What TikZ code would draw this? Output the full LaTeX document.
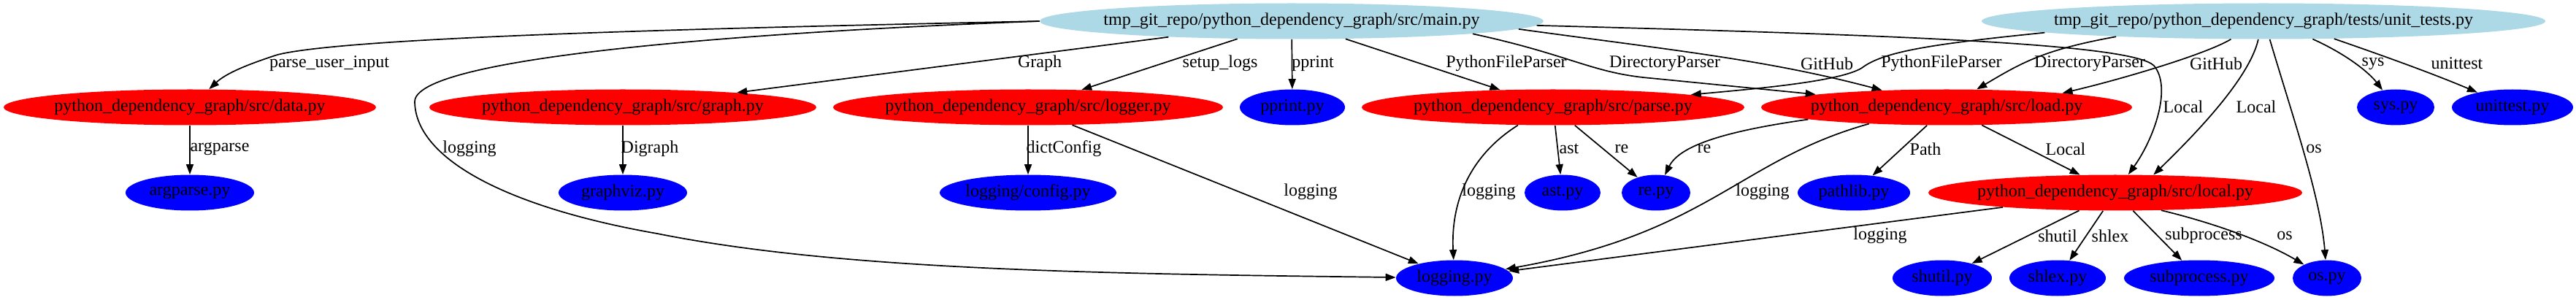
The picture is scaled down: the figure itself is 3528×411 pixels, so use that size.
\documentclass[tikz,border=0pt]{standalone}
\usepackage{fontspec}
\setmainfont{Liberation Serif}
\usetikzlibrary{shapes.geometric,arrows.meta}
\definecolor{gvlightblue}{HTML}{ADD8E6}
\newcommand\gvn[5]{\node[#1, minimum width=#4pt] (#2) at (#3) {\makebox[0pt]{#5}};}
\begin{document}
\begin{tikzpicture}[x=0.5pt,y=-0.5pt,
  gvnode/.style={ellipse, inner sep=0pt, minimum height=24.5pt, font=\fontsize{12}{14}\selectfont},
  srcnode/.style={gvnode, fill=gvlightblue},
  modnode/.style={gvnode, fill=red},
  libnode/.style={gvnode, fill=blue},
  dep/.style={draw=black, line width=0.85pt, -{Triangle[length=7pt,width=5pt]}},
  lbl/.style={inner sep=0pt, font=\fontsize{12}{14}\selectfont}]
\useasboundingbox (0,0) rectangle (3528,411);
% nodes
\gvn{srcnode}{main}{1769,29}{345}{tmp\_git\_repo/python\_dependency\_graph/src/main.py}
\gvn{srcnode}{unit}{3100,29}{386}{tmp\_git\_repo/python\_dependency\_graph/tests/unit\_tests.py}
\gvn{modnode}{data}{260,147}{255}{python\_dependency\_graph/src/data.py}
\gvn{modnode}{graph}{853,147}{265}{python\_dependency\_graph/src/graph.py}
\gvn{modnode}{logger}{1408,147}{267}{python\_dependency\_graph/src/logger.py}
\gvn{libnode}{pprint}{1770,147}{72}{pprint.py}
\gvn{modnode}{parse}{2127,147}{262}{python\_dependency\_graph/src/parse.py}
\gvn{modnode}{load}{2666,147}{254}{python\_dependency\_graph/src/load.py}
\gvn{libnode}{sys}{3281,147}{53}{sys.py}
\gvn{libnode}{unittest}{3441,147}{83}{unittest.py}
\gvn{libnode}{argparse}{260,264}{88}{argparse.py}
\gvn{libnode}{graphviz}{853,264}{88}{graphviz.py}
\gvn{libnode}{config}{1408,264}{121}{logging/config.py}
\gvn{libnode}{ast}{2140,264}{52}{ast.py}
\gvn{libnode}{re}{2268,264}{47}{re.py}
\gvn{libnode}{pathlib}{2539,264}{77}{pathlib.py}
\gvn{modnode}{local}{2897,264}{256}{python\_dependency\_graph/src/local.py}
\gvn{libnode}{logging}{1992,381}{80}{logging.py}
\gvn{libnode}{shutil}{2660,381}{68}{shutil.py}
\gvn{libnode}{shlex}{2818,381}{66}{shlex.py}
\gvn{libnode}{subprocess}{3012,381}{103}{subprocess.py}
\gvn{libnode}{os}{3187,381}{47}{os.py}
% edges from main.py
\draw[dep] (main.west) .. controls (1000,38) and (480,50) .. (380,75) .. controls (340,88) and (310,100) .. (data);
\draw[dep] (main.west) .. controls (1000,45) and (565,80) .. (568,140) .. controls (570,220) and (700,285) .. (900,320) .. controls (1150,370) and (1500,375) .. (logging);
\draw[dep] (main) -- (graph);
\draw[dep] (main) -- (logger);
\draw[dep] (main) -- (pprint);
\draw[dep] (main) -- (parse);
\draw[dep] (main.-4.85) .. controls (2150,75) and (2180,100) .. (2260,107) -- (load);
\draw[dep] (main.-2.9) .. controls (2300,70) and (2420,82) .. (load);
\draw[dep] (main.-1.6) .. controls (2600,48) and (2920,60) .. (2950,90) .. controls (2975,120) and (2950,190) .. (local);
% edges from unit_tests.py
\draw[dep] (unit.-177.1) .. controls (2650,60) and (2580,70) .. (2550,93) .. controls (2520,112) and (2400,122) .. (parse);
\draw[dep] (unit.-174.2) .. controls (2800,68) and (2770,85) .. (load);
\draw[dep] (unit.-151.9) .. controls (3020,75) and (2900,110) .. (load.7.5);
\draw[dep] (unit.-106.3) .. controls (3080,110) and (3000,190) .. (local.25);
\draw[dep] (unit.-71.6) .. controls (3140,160) and (3178,270) .. (os);
\draw[dep] (unit.-20.6) .. controls (3215,75) and (3245,100) .. (sys);
\draw[dep] (unit.-14.5) .. controls (3260,75) and (3330,100) .. (unittest);
% other edges
\draw[dep] (data) -- (argparse);
\draw[dep] (graph) -- (graphviz);
\draw[dep] (logger) -- (config);
\draw[dep] (logger) -- (logging);
\draw[dep] (parse.-153.4) .. controls (2010,215) and (1987,280) .. (logging);
\draw[dep] (parse) -- (ast);
\draw[dep] (parse) -- (re);
\draw[dep] (load.-175.3) .. controls (2360,180) and (2300,200) .. (re);
\draw[dep] (load.-168) .. controls (2380,220) and (2340,320) .. (logging);
\draw[dep] (load) -- (pathlib);
\draw[dep] (load) -- (local);
\draw[dep] (local) -- (logging);
\draw[dep] (local) -- (shutil);
\draw[dep] (local) -- (shlex);
\draw[dep] (local) -- (subprocess);
\draw[dep] (local.-21.8) .. controls (3030,305) and (3100,330) .. (os);
% labels
\node[lbl] (l1) at (451,87) {parse\_user\_input};
\node[lbl] (l2) at (643,204) {logging};
\node[lbl] (l3) at (1424,87) {Graph};
\node[lbl] (l4) at (1671,87) {setup\_logs};
\node[lbl] (l5) at (1798,87) {pprint};
\node[lbl] (l6) at (2063,87) {PythonFileParser};
\node[lbl] (l7) at (2280,87) {DirectoryParser};
\node[lbl] (l8) at (2502,87) {GitHub};
\node[lbl] (l9) at (2990,146) {Local};
\node[lbl] (l10) at (2659,87) {PythonFileParser};
\node[lbl] (l11) at (2862,87) {DirectoryParser};
\node[lbl] (l12) at (3035,87) {GitHub};
\node[lbl] (l13) at (3090,146) {Local};
\node[lbl] (l14) at (3169,204) {os};
\node[lbl] (l15) at (3250,87) {sys};
\node[lbl] (l16) at (3365,87) {unittest};
\node[lbl] (l17) at (301,204) {argparse};
\node[lbl] (l18) at (890,204) {Digraph};
\node[lbl] (l19) at (1457,204) {dictConfig};
\node[lbl] (l20) at (1795,263) {logging};
\node[lbl] (l21) at (2039,263) {logging};
\node[lbl] (l22) at (2149,204) {ast};
\node[lbl] (l23) at (2221,204) {re};
\node[lbl] (l24) at (2334,204) {re};
\node[lbl] (l25) at (2414,263) {logging};
\node[lbl] (l26) at (2637,204) {Path};
\node[lbl] (l27) at (2829,204) {Local};
\node[lbl] (l28) at (2575,323) {logging};
\node[lbl] (l29) at (2818,323) {shutil};
\node[lbl] (l30) at (2890,323) {shlex};
\node[lbl] (l31) at (3018,323) {subprocess};
\node[lbl] (l32) at (3129,323) {os};
\end{tikzpicture}
\end{document}
